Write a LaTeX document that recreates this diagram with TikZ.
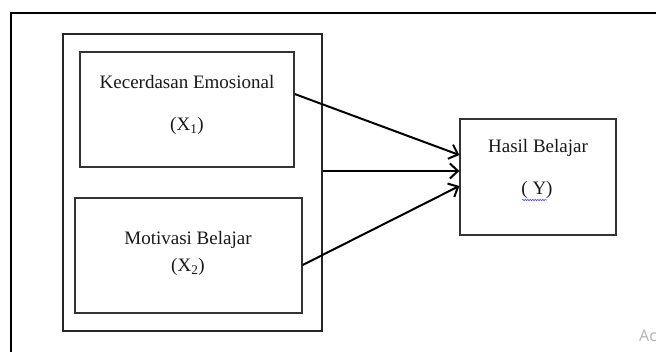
\documentclass[tikz,border=0pt]{standalone}
\usepackage{fontspec}
\setmainfont{Liberation Serif}
\newfontfamily\wmfont{Open Sans}
\usetikzlibrary{arrows.meta,decorations.pathmorphing}

\tikzset{
  frame/.style={draw=black, line width=2.4pt},
  group/.style={draw=black!85, line width=2pt},
  varbox/.style={draw=black!80, line width=1.3pt, minimum width=#1, inner sep=0pt},
  lbl/.style={font=\fontsize{19}{23}\selectfont, text=black!90, inner sep=0pt},
  link/.style={line width=2pt, -{Straight Barb[length=8pt,width=15pt,line width=2pt]}},
}

\begin{document}
\begin{tikzpicture}[x=1pt,y=-1pt]
  \useasboundingbox (0,0) rectangle (656,352);
  \clip (0,0) rectangle (656,352);
  \fill[white] (0,0) rectangle (656,352);

  % page frame (continues past the right and bottom edges)
  \draw[frame] (11,13) rectangle (700,400);

  % group box around the two independent variables
  \node[group, minimum width=259pt, minimum height=297pt, inner sep=0pt] (grp) at (192.5,182.5) {};

  % independent variables
  \node[varbox=214pt, minimum height=115pt] (kec) at (187,109.5) {};
  \node[lbl] (kect) at (187,82) {Kecerdasan Emosional};
  \node[lbl] (kecx) at (187,126) {(X\textsubscript{1})};

  \node[varbox=227pt, minimum height=115pt] (mot) at (188.5,255.5) {};
  \node[lbl] (mott) at (188,240) {Motivasi Belajar};
  \node[lbl] (motx) at (188,267) {(X\textsubscript{2})};

  % dependent variable
  \node[varbox=156pt, minimum height=116pt] (hsl) at (538,177) {};
  \node[lbl] (hslt) at (538,148) {Hasil Belajar};
  \node[lbl] (hsly) at (537,190) {( Y)};
  \draw[blue!70, line width=0.6pt, decorate,
        decoration={snake, amplitude=0.7pt, segment length=2.5pt}]
    ([xshift=-15pt,yshift=-10pt]hsly.center) -- ([xshift=10pt,yshift=-10pt]hsly.center);

  % influence arrows
  \draw[link] ([yshift=15.5pt]kec.east) -- ([yshift=22pt]hsl.west);
  \draw[link] ([yshift=11.5pt]grp.east) -- ([yshift=6pt]hsl.west);
  \draw[link] ([yshift=-9.5pt]mot.east) -- ([yshift=-9pt]hsl.west);

  % screen overlay text in the corner
  \node[anchor=west, text=black!30, font=\wmfont\fontsize{16}{19}\selectfont, inner sep=0pt] (wm1) at (639,336) {Ac};
\end{tikzpicture}
\end{document}
